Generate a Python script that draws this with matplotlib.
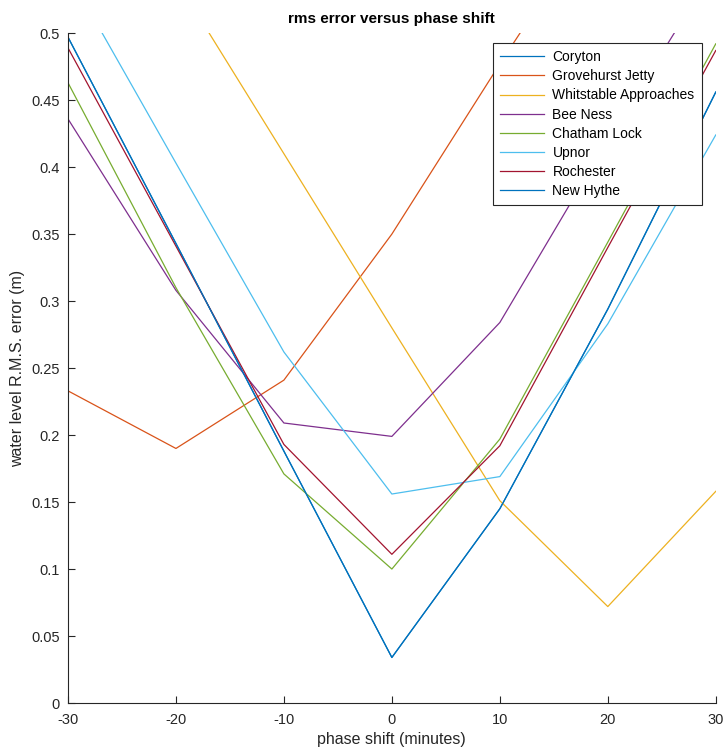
import numpy as np
import matplotlib
matplotlib.use("Agg")
import matplotlib.pyplot as plt

plt.rcParams['font.family'] = ['Liberation Sans', 'DejaVu Sans']
plt.rcParams['axes.unicode_minus'] = False

# phase shift in minutes
shift = [-30, -20, -10, 0, 10, 20, 30]

# rms error per station (m)
coryton = [0.497, 0.343, 0.188, 0.034, 0.145, 0.294, 0.456]
grovehurst = [0.233, 0.190, 0.241, 0.350, 0.477, 0.60, 0.72]
whitstable = [0.67, 0.54, 0.41, 0.280, 0.151, 0.072, 0.158]
bee_ness = [0.436, 0.308, 0.209, 0.199, 0.284, 0.42, 0.55]
chatham = [0.463, 0.310, 0.171, 0.100, 0.197, 0.344, 0.492]
upnor = [0.545, 0.403, 0.262, 0.156, 0.169, 0.283, 0.424]
rochester = [0.489, 0.341, 0.193, 0.111, 0.192, 0.340, 0.487]
new_hythe = [0.497, 0.343, 0.188, 0.034, 0.145, 0.294, 0.456]

names = ['Coryton', 'Grovehurst Jetty', 'Whitstable Approaches', 'Bee Ness',
         'Chatham Lock', 'Upnor', 'Rochester', 'New Hythe']
series = [coryton, grovehurst, whitstable, bee_ness, chatham, upnor, rochester, new_hythe]
# matlab default colour order
colors = ['#0072BD', '#D95319', '#EDB120', '#7E2F8E', '#77AC30', '#4DBEEE', '#A2142F', '#0072BD']

fig = plt.figure(figsize=(7.23, 7.54), dpi=100)
ax = fig.add_axes([0.094, 0.0676, 0.896, 0.8885])

for name, vals, c in zip(names, series, colors):
    ax.plot(shift, vals, color=c, lw=0.9, label=name)

ax.set_xlim(-30, 30)
ax.set_ylim(0, 0.5)
ax.set_xticks(np.arange(-30, 31, 10))
ax.set_yticks(np.arange(0, 0.51, 0.05))
ax.set_yticklabels(['0', '0.05', '0.1', '0.15', '0.2', '0.25', '0.3', '0.35', '0.4', '0.45', '0.5'])

for s in ['top', 'right']:
    ax.spines[s].set_visible(False)
for s in ['left', 'bottom']:
    ax.spines[s].set_color('#262626')
    ax.spines[s].set_linewidth(0.8)
ax.tick_params(direction='in', length=5, width=0.8, colors='#262626', labelsize=10.5)
ax.tick_params(axis='x', pad=7)
ax.tick_params(axis='y', pad=6)

ax.set_xlabel('phase shift (minutes)', fontsize=11.5, color='#262626', labelpad=4)
ax.set_ylabel('water level R.M.S. error (m)', fontsize=11.5, color='#262626')
ax.set_title('rms error versus phase shift', fontsize=11, fontweight='bold', pad=7)

leg = ax.legend(loc='upper right', bbox_to_anchor=(0.978, 0.985), fontsize=10,
                fancybox=False, framealpha=1, edgecolor='#262626', borderaxespad=0,
                handlelength=3.2, handletextpad=0.6, labelspacing=0.37, borderpad=0.5)
leg.get_frame().set_linewidth(0.8)

fig.savefig('out.png', dpi=100)
